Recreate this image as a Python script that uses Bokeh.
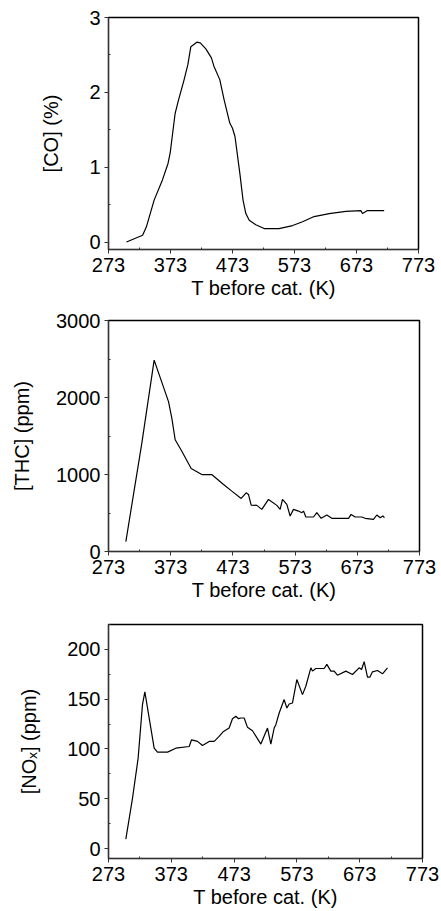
from bokeh.plotting import figure
from bokeh.layouts import column
from bokeh.models import FixedTicker, Range1d
from bokeh.embed import file_html
from bokeh.resources import INLINE

# ---- data ----
co_T = [302, 328, 334, 346.6, 360, 369, 372.5, 380.5, 386, 395, 401, 405.8, 415.5, 421,
        430, 439, 443, 452.5, 459.5, 468.6, 473, 477, 484.8, 490, 494.5, 500, 510.6, 524,
        548, 570, 586, 604.6, 629, 655.8, 680, 682.7, 690.7, 717.6]
co_pct = [0.0, 0.09, 0.2, 0.56, 0.83, 1.05, 1.19, 1.72, 1.9, 2.17, 2.37, 2.61, 2.67, 2.66,
          2.58, 2.46, 2.35, 2.17, 1.9, 1.59, 1.52, 1.41, 0.92, 0.56, 0.38, 0.29, 0.23, 0.18,
          0.18, 0.22, 0.27, 0.34, 0.38, 0.41, 0.42, 0.38, 0.42, 0.42]

thc_T = [300.9, 326.6, 346.4, 369.5, 374.8, 380.2, 390.9, 405.9, 423, 439, 457.9, 471.3,
         486.3, 494.3, 498, 502.4, 511.5, 519.5, 530.2, 543.7, 549, 552.7, 559.7, 565,
         570.4, 578.5, 583.8, 586.5, 590.3, 602.6, 607.9, 614.9, 624, 632, 658.9, 663,
         669.6, 680, 685.6, 699, 704.4, 709.8, 714, 716.7]
thc_ppm = [129, 1408, 2485, 1947, 1731, 1451, 1301, 1077, 999, 999, 870, 784,
           689, 762, 741, 603, 599, 547, 676, 599, 547, 676, 612, 461,
           547, 525, 504, 525, 448, 448, 504, 431, 474, 431, 431, 482,
           448, 448, 431, 418, 474, 439, 461, 439]

nox_T = [300.6, 311.2, 320.2, 327.1, 330.9, 337.8, 345.7, 351, 367, 380.2, 401.5, 405.2,
         414.7, 422.7, 433.3, 441.3, 449.2, 456.1, 465.1, 470.4, 475.8, 480, 483.7, 489,
         494.3, 502.3, 515.6, 526.2, 531.5, 536.8, 539.5, 544.8, 552.7, 557, 560.7, 566,
         572.9, 581.9, 587.2, 595.2, 597.8, 603.1, 616.4, 620.7, 627, 632.3, 637.6, 650.9,
         661.5, 672.1, 675.9, 680.1, 685.4, 689.1, 693.4, 701.3, 709.3, 717.3]
nox_ppm = [9.4, 50.4, 90.8, 144.5, 157.3, 131, 100.8, 96.8, 96.8, 100.8, 102.5, 109.2,
           107.6, 103.5, 107.6, 107.6, 112.6, 117.6, 121, 130.4, 132.8, 130.4, 131.1, 131.1,
           121.7, 118.3, 104.9, 121, 104.9, 121, 124.4, 136.1, 149.6, 141.2, 145.2, 146.2,
           169.7, 154.6, 163, 181.5, 178.2, 180.8, 180.8, 184.9, 178.2, 178.2, 174.1, 178.2,
           174.8, 181.5, 179.8, 187.6, 172.1, 172.1, 177.5, 178.8, 175.5, 181.5]

x_ticks = [273, 373, 473, 573, 673, 773]
x_minor = [323, 423, 523, 623, 723]
co_ticks = [0, 1, 2, 3]
co_minor = [0.5, 1.5, 2.5]
thc_ticks = [0, 1000, 2000, 3000]
thc_minor = [500, 1500, 2500]
nox_ticks = [0, 50, 100, 150, 200]
nox_minor = [25, 75, 125, 175, 225]

FONT = "Liberation Sans"


def make_panel(xs, ys, ylabel, yrange, yticks, yminor, left, fw, fh, top, bottom, right,
               ystandoff):
    p = figure(frame_width=fw, frame_height=fh, output_backend="svg",
               toolbar_location=None, x_range=Range1d(273, 773),
               y_range=Range1d(*yrange),
               min_border_left=left, min_border_right=right,
               min_border_top=top, min_border_bottom=bottom)
    p.line(xs, ys, line_color="black", line_width=1.2)
    p.grid.visible = False
    p.outline_line_color = "black"
    p.outline_line_width = 1.5
    p.background_fill_color = "white"
    p.border_fill_color = "white"
    p.xaxis.ticker = FixedTicker(ticks=x_ticks, minor_ticks=x_minor)
    p.yaxis.ticker = FixedTicker(ticks=yticks, minor_ticks=yminor)
    p.xaxis.axis_label = "T before cat. (K)"
    p.yaxis.axis_label = ylabel
    for ax in (p.xaxis[0], p.yaxis[0]):
        ax.axis_line_color = "#333333"
        ax.major_tick_line_color = "#333333"
        ax.minor_tick_line_color = "#333333"
        ax.major_tick_in = 0
        ax.major_tick_out = 4
        ax.minor_tick_in = 2
        ax.minor_tick_out = 0
        ax.major_label_text_font = FONT
        ax.major_label_text_font_size = "20px"
        ax.major_label_text_color = "black"
        ax.axis_label_text_font = FONT
        ax.axis_label_text_font_size = "20px"
        ax.axis_label_text_font_style = "normal"
        ax.axis_label_text_color = "black"
        ax.major_label_standoff = 4
    p.xaxis.axis_label_standoff = 2
    p.yaxis.axis_label_standoff = ystandoff
    return p


p1 = make_panel(co_T, co_pct, "[CO] (%)", (-0.1, 3.0), co_ticks, co_minor,
                left=106, fw=310, fh=232, top=17, bottom=51, right=25, ystandoff=24)
p2 = make_panel(thc_T, thc_ppm, "[THC] (ppm)", (0, 3000), thc_ticks, thc_minor,
                left=107, fw=311, fh=231, top=19, bottom=55, right=23, ystandoff=20)
p3 = make_panel(nox_T, nox_ppm, "[NO\u2093] (ppm)", (-10, 225), nox_ticks, nox_minor,
                left=108, fw=314, fh=234, top=18, bottom=54, right=19, ystandoff=24)

layout = column(p1, p2, p3, spacing=0)
open("out.html", "w").write(file_html(layout, INLINE))
